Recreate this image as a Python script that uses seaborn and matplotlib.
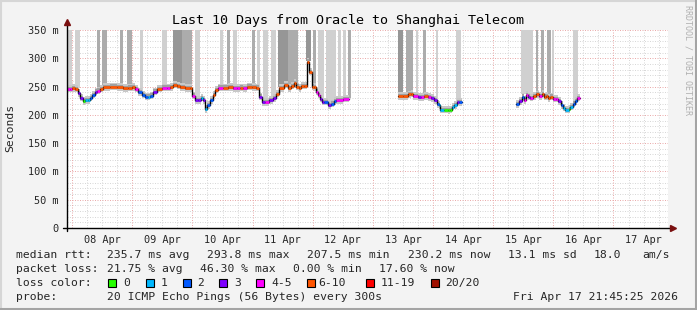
import numpy as np
import pandas as pd
import matplotlib
matplotlib.use("Agg")
import matplotlib.pyplot as plt
from matplotlib.patches import Rectangle
import seaborn as sns

# ---------------- data ----------------
# hours since graph start (2026-04-07 21:45), median rtt in ms, loss class index, segment id
med_hours = [0.2, 1.4, 2.2, 3.4, 4.6, 5.4, 6.6, 7.4, 8.6, 9.4, 10.2, 11.4, 12.2, 13.4, 14.6, 17.4,
             20.2, 22.6, 24.6, 26.2, 27.4, 28.6, 30.2, 31.4, 32.6, 33.4, 34.6, 36.2, 38.2, 40.2,
             41.4, 42.6, 44.2, 45.4, 47.4, 49.4, 50.2, 51.4, 52.6, 53.8, 54.6, 55.4, 56.2, 57.4,
             58.6, 59.4, 60.6, 62.6, 64.6, 66.6, 68.2, 69.4, 70.6, 72.2, 74.2, 75.8, 77.0, 78.2,
             79.4, 80.6, 82.2, 83.4, 84.6, 86.6, 88.2, 89.4, 90.6, 91.4, 92.6, 93.4, 94.6, 95.8,
             96.6, 97.8, 98.6, 99.4, 100.2, 101.0, 101.8, 102.6, 104.2, 105.4, 106.6, 107.4, 110.2,
             132.2, 134.2, 136.2, 137.4, 138.2, 140.2, 141.4, 142.6, 144.2, 145.4, 146.6, 147.8,
             148.6, 149.0, 150.6, 152.2, 153.0, 153.8, 154.6, 155.8, 156.6,
             179.4, 180.6, 181.8, 182.6, 183.4, 184.2, 185.0, 186.2, 187.4, 188.6, 189.8, 190.6,
             191.4, 192.2, 193.0, 194.2, 195.4, 196.2, 197.4, 198.2, 199.0, 200.6, 201.0, 202.2,
             203.0, 203.8]
med_rtt = [246, 246, 247, 246, 238, 230, 224, 226, 226, 230, 235, 241, 243, 246, 249, 250,
           249, 247, 248, 249, 246, 240, 235, 232, 232, 234, 241, 246, 248, 248,
           249, 253, 251, 249, 247, 247, 234, 226, 226, 230, 226, 210, 217, 226,
           235, 244, 248, 248, 249, 247, 247, 248, 247, 250, 249, 248, 232, 222,
           222, 226, 229, 237, 247, 253, 247, 251, 256, 250, 247, 251, 251, 294,
           276, 250, 249, 241, 235, 228, 223, 223, 217, 220, 224, 226, 228,
           233, 233, 236, 237, 233, 231, 231, 233, 231, 229, 226, 219,
           217, 209, 209, 208, 209, 214, 217, 223, 222,
           219, 224, 232, 226, 235, 232, 230, 233, 236, 233, 237, 232,
           233, 229, 232, 228, 228, 224, 217, 213, 209, 210, 214, 220,
           224, 230]
med_loss = [4, 4, 5, 5, 3, 3, 0, 1, 1, 2, 2, 3, 4, 5, 5, 5,
            5, 5, 5, 5, 4, 2, 2, 2, 1, 2, 3, 5, 4, 4,
            5, 5, 5, 5, 5, 5, 4, 3, 3, 1, 3, 1, 2, 2,
            5, 5, 4, 5, 5, 4, 4, 5, 4, 5, 5, 5, 3, 3,
            4, 3, 3, 5, 5, 5, 5, 5, 5, 5, 5, 5, 5, 5,
            5, 5, 5, 4, 4, 3, 3, 2, 3, 2, 2, 4, 4,
            5, 5, 5, 5, 4, 3, 4, 5, 4, 3, 3, 2,
            1, 1, 0, 0, 0, 1, 1, 3, 2,
            2, 3, 2, 4, 4, 3, 4, 5, 5, 4, 5, 5,
            5, 5, 5, 4, 4, 3, 2, 1, 1, 0, 1, 2,
            2, 4]
med_seg = [0] * 85 + [1] * 21 + [2] * 26
seg_end = [112.6, 157.8, 205.0]

# smoke bars reaching off-scale: start hour, end hour, density (1 light .. 3 dark)
smoke_start = [0.6, 3.4, 12.2, 14.2, 21.4, 24.2, 29.4, 38.2, 42.6, 46.2, 51.4, 61.4, 64.2, 66.6,
               74.2, 76.2, 78.6, 81.4, 84.2, 88.2, 95.4, 98.2, 100.2, 101.4, 103.4, 105.0, 108.2,
               110.2, 112.2, 132.2, 135.4, 139.4, 142.2, 147.4, 155.4, 181.4, 187.4, 189.4, 191.8,
               193.8, 202.2]
smoke_end = [2.2, 5.4, 13.4, 16.2, 22.6, 26.2, 30.6, 40.2, 46.2, 50.2, 53.4, 62.6, 65.4, 68.2,
             75.4, 77.4, 80.2, 83.4, 88.2, 92.2, 97.4, 99.4, 101.4, 102.6, 105.0, 107.4, 109.4,
             111.4, 113.4, 134.2, 138.2, 140.2, 143.4, 148.2, 157.4, 186.2, 188.2, 190.6, 193.4,
             194.6, 204.2]
smoke_level = [1, 1, 2, 2, 2, 2, 1, 1, 3, 2, 1, 1, 2, 1,
               2, 1, 1, 1, 3, 2, 3, 2, 1, 1, 1, 1, 1,
               1, 2, 3, 2, 1, 2, 1, 1, 1, 2, 2, 2,
               1, 1]

day_labels = ["08 Apr", "09 Apr", "10 Apr", "11 Apr", "12 Apr",
              "13 Apr", "14 Apr", "15 Apr", "16 Apr", "17 Apr"]
y_ticks = [0, 50, 100, 150, 200, 250, 300, 350]
y_labels = ["0", "50 m", "100 m", "150 m", "200 m", "250 m", "300 m", "350 m"]
loss_labels = ["0", "1", "2", "3", "4-5", "6-10", "11-19", "20/20"]
loss_colors = ["#26ff00", "#00b8ff", "#0059ff", "#7e00ff", "#ff00ff", "#ff5500", "#ff0000", "#a01000"]

title = "Last 10 Days from Oracle to Shanghai Telecom"
stats_rtt = ["235.7 ms avg", "293.8 ms max", "207.5 ms min", "230.2 ms now", "13.1 ms sd", "18.0", "am/s"]
stats_loss = ["21.75 % avg", "46.30 % max", "0.00 % min", "17.60 % now"]
probe_text = "20 ICMP Echo Pings (56 Bytes) every 300s"
stamp_text = "Fri Apr 17 21:45:25 2026"

# ---------------- figure ----------------
sns.set_style("white")
plt.rcParams["font.family"] = ["DejaVu Sans Mono", "DejaVu Sans"]

W, H = 697, 310
fig = plt.figure(figsize=(W / 100, H / 100), dpi=100, facecolor="#f3f3f3")
ax = fig.add_axes([66.5 / W, 82 / H, 601.5 / W, 198 / H])
ax.set_facecolor("white")
ax.set_xlim(0, 240)
ax.set_ylim(0, 350)

df = pd.DataFrame({"h": med_hours, "rtt": med_rtt, "loss": med_loss, "seg": med_seg})

# grid
dot = (0, (1, 1.5))
for v in range(0, 351, 10):
    if v % 50:
        ax.axhline(v, color="#d8d8d8", lw=0.72, ls=dot, zorder=0)
for k in range(0, 40):
    h = 2.25 + 6 * k
    if h < 240 and (k % 4):
        ax.axvline(h, color="#d8d8d8", lw=0.72, ls=dot, zorder=0)
for v in y_ticks:
    ax.axhline(v, color="#ebacac", lw=0.72, ls=dot, zorder=0.5)
for d in range(10):
    ax.axvline(2.25 + 24 * d, color="#ebacac", lw=0.72, ls=dot, zorder=0.5)

# smoke bars
shade = {1: "#d0d0d0", 2: "#acacac", 3: "#969696"}
all_h = np.array(med_hours)
all_v = np.array(med_rtt, dtype=float)
for s, e, lv in zip(smoke_start, smoke_end, smoke_level):
    i = max(np.searchsorted(all_h, (s + e) / 2, side="right") - 1, 0)
    b = all_v[i] + 2
    ax.bar(s, 360 - b, bottom=b, width=e - s, align="edge", color=shade[lv], linewidth=0, zorder=1)

# smoke near median + median lines
step_rows = []
for sid in range(3):
    sub = df[df.seg == sid]
    t = list(sub.h) + [seg_end[sid]]
    v = list(sub.rtt) + [sub.rtt.iloc[-1]]
    t = np.array(t)
    v = np.array(v, dtype=float)
    ax.fill_between(t, v - 6, v + 7, step="post", color="#c8c8c8", linewidth=0, zorder=2)
    ax.fill_between(t, v - 3, v + 4, step="post", color="#a0a0a0", linewidth=0, zorder=2)
    for tt, vv in zip(t, v):
        step_rows.append({"h": tt, "rtt": vv, "seg": sid})
steps = pd.DataFrame(step_rows)
sns.lineplot(data=steps, x="h", y="rtt", units="seg", estimator=None, drawstyle="steps-post",
             color="black", linewidth=1.0, ax=ax, legend=False, zorder=3)
for sid in range(3):
    sub = df[df.seg == sid]
    t0 = sub.h.values
    t1 = np.append(t0[1:], seg_end[sid])
    ax.hlines(sub.rtt.values, t0, t1, colors=[loss_colors[c] for c in sub.loss.values],
              lw=1.9, zorder=4)

ax.set_xlabel("")
ax.set_ylabel("")

# axes / ticks
for sp in ax.spines.values():
    sp.set_visible(False)
ax.set_yticks(y_ticks)
ax.set_yticklabels(y_labels, fontsize=7.4)
ax.tick_params(axis="y", direction="out", length=3, width=0.8, pad=3, color="black")
ax.set_xticks([14.25 + 24 * d for d in range(10)])
ax.set_xticklabels(day_labels, fontsize=7.4)
ax.set_xticks([2.25 + 6 * k for k in range(40) if 2.25 + 6 * k < 240], minor=True)
ax.tick_params(axis="x", which="major", length=0, pad=5)
ax.tick_params(axis="x", which="minor", direction="out", length=2, width=0.7, color="#e0a0a0")
ax.tick_params(axis="y", which="minor", length=0)

ax.plot([-4 / 601.5, 1 + 3 / 601.5], [0, 0], transform=ax.transAxes, color="black", lw=1.0,
        clip_on=False, zorder=5)
ax.plot([0, 0], [-3 / 198, 1 + 5 / 198], transform=ax.transAxes, color="black", lw=1.0,
        clip_on=False, zorder=5)
ax.plot([1 + 5 / 601.5], [0], marker=">", ms=4.5, color="#7a1010", transform=ax.transAxes,
        clip_on=False, zorder=6)
ax.plot([0], [1 + 8 / 198], marker="^", ms=4.5, color="#7a1010", transform=ax.transAxes,
        clip_on=False, zorder=6)

# texts
def fx(px):
    return px / W

def fy(py):
    return 1 - py / H

fig.text(fx(347.5), fy(24), title, ha="center", va="baseline", fontsize=9.6, color="black")
fig.text(fx(10), fy(128), "Seconds", rotation=90, ha="center", va="center", fontsize=8.2)
fig.text(fx(688), fy(60), "RRDTOOL / TOBI OETIKER", rotation=270, ha="center", va="center",
         fontsize=6.0, color="#b0b0b0")

fs = 8.2
fig.text(fx(16), fy(258), "median rtt:", fontsize=fs, va="baseline")
for x, s in zip([107, 207, 307, 408, 508, 594, 642], stats_rtt):
    fig.text(fx(x), fy(258), s, fontsize=fs, va="baseline")
fig.text(fx(16), fy(272), "packet loss:", fontsize=fs, va="baseline")
for x, s in zip([107, 200, 293, 379], stats_loss):
    fig.text(fx(x), fy(272), s, fontsize=fs, va="baseline")
fig.text(fx(16), fy(286), "loss color:", fontsize=fs, va="baseline")
sq_x = [108, 146, 183, 219, 256, 307, 366, 431]
lb_x = [123, 161, 197, 234, 271, 318, 381, 445]
for sx, lx, lab, col in zip(sq_x, lb_x, loss_labels, loss_colors):
    fig.add_artist(Rectangle((fx(sx), fy(286.5)), 7.5 / W, 7.5 / H, transform=fig.transFigure,
                             facecolor=col, edgecolor="black", linewidth=0.8))
    fig.text(fx(lx), fy(286), lab, fontsize=fs, va="baseline")
fig.text(fx(16), fy(300), "probe:", fontsize=fs, va="baseline")
fig.text(fx(107), fy(300), probe_text, fontsize=fs, va="baseline")
fig.text(fx(513), fy(300), stamp_text, fontsize=fs, va="baseline")

# frame
fig.add_artist(plt.Line2D([0, 1], [1 - 1 / H, 1 - 1 / H], transform=fig.transFigure, color="#d6d6d6", lw=1.5))
fig.add_artist(plt.Line2D([1 / W, 1 / W], [0, 1], transform=fig.transFigure, color="#d6d6d6", lw=1.5))
fig.add_artist(plt.Line2D([0, 1], [1.5 / H, 1.5 / H], transform=fig.transFigure, color="#a4a4a4", lw=2.2))
fig.add_artist(plt.Line2D([1 - 1.5 / W, 1 - 1.5 / W], [0, 1], transform=fig.transFigure, color="#a4a4a4", lw=2.2))

fig.savefig("out.png", dpi=100, facecolor=fig.get_facecolor())
